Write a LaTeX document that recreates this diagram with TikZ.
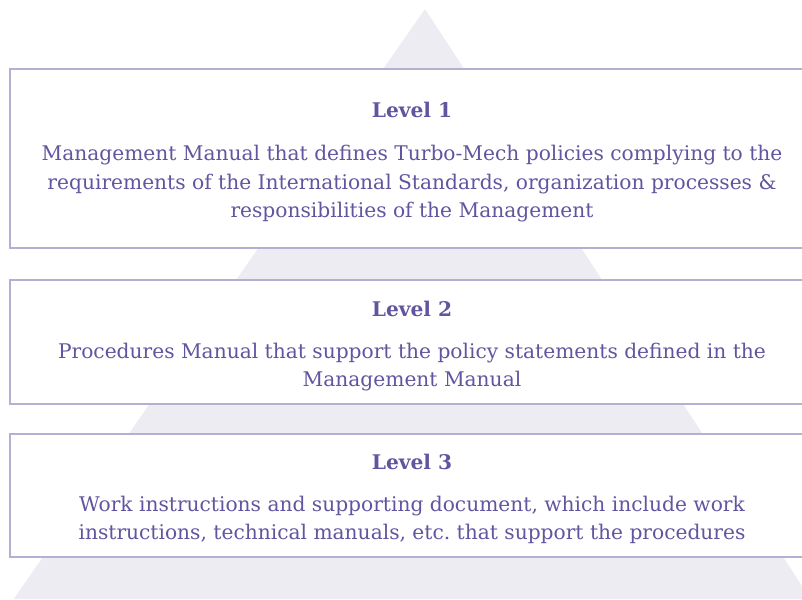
\documentclass[tikz,border=0pt]{standalone}
\usepackage{fontspec}
\setmainfont{DejaVu Serif}
\definecolor{pyramidfill}{RGB}{237,236,243}
\definecolor{boxline}{RGB}{180,176,212}
\definecolor{levelink}{RGB}{96,86,160}

\begin{document}
\begin{tikzpicture}[
        x=1pt,
        y=-1pt,
        every node/.style={font=\fontsize{20.2}{28.5}\selectfont, text=levelink},
        levelbox/.style={
            rectangle,
            draw=boxline,
            line width=2.8pt,
            fill=white,
            minimum width=804pt,
            inner sep=0pt
        },
        title/.style={
            font=\fontsize{20.2}{28.5}\selectfont\bfseries,
            inner sep=0pt
        },
        body/.style={
            align=center,
            inner sep=0pt
        }
    ]
    \clip (0,0) rectangle (802,599);
    \useasboundingbox (0,0) rectangle (802,599);

    % Pyramid
    \fill[pyramidfill] (425,9) -- (13.6,599) -- (810.6,599) -- cycle;

    % Level 1
    \node[levelbox, minimum height=179pt] (box1) at (412,158.5) {};
    \node[title] (title1) at (412,110) {Level 1};
    \node[body] (body1) at (412,184) {Management Manual that defines Turbo-Mech policies complying to the\\
        requirements of the International Standards, organization processes \&\\
        responsibilities of the Management};

    % Level 2
    \node[levelbox, minimum height=124pt] (box2) at (412,342) {};
    \node[title] (title2) at (412,309) {Level 2};
    \node[body] (body2) at (412,367) {Procedures Manual that support the policy statements defined in the\\
        Management Manual};

    % Level 3
    \node[levelbox, minimum height=123pt] (box3) at (412,495.5) {};
    \node[title] (title3) at (412,462) {Level 3};
    \node[body] (body3) at (412,520) {Work instructions and supporting document, which include work\\
        instructions, technical manuals, etc.\ that support the procedures};
\end{tikzpicture}
\end{document}
